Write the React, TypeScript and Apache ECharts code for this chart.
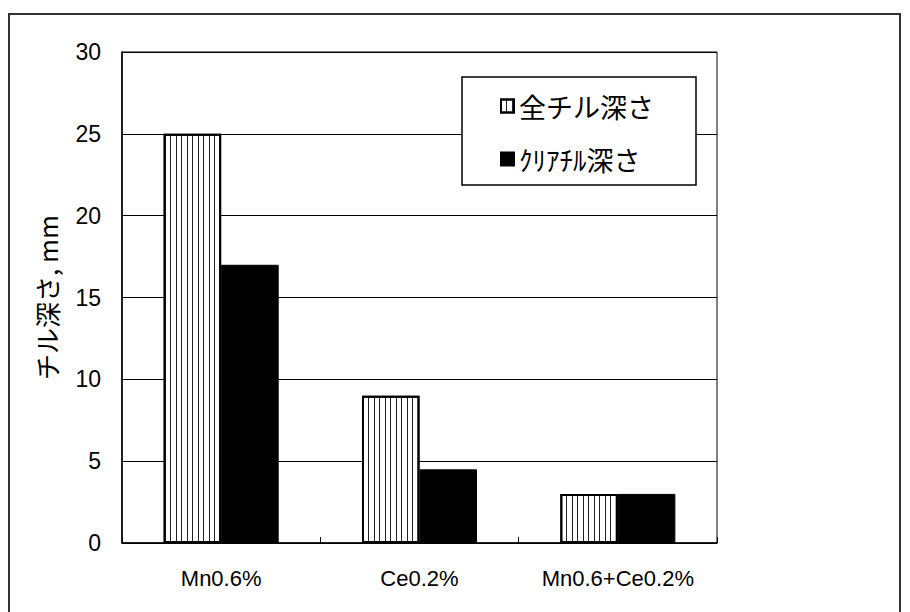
import React, { useEffect, useRef } from "react";
import * as echarts from "echarts";

// Chill depth by alloy addition (mm)
const categories = ["Mn0.6%", "Ce0.2%", "Mn0.6+Ce0.2%"];
const seriesNames = ["全チル深さ", "ｸﾘｱﾁﾙ深さ"];
const totalChillDepth = [25, 9, 3];
const clearChillDepth = [17, 4.5, 3];
const yMin = 0;
const yMax = 30;
const yStep = 5;
const yAxisTitle = "チル深さ, mm";

const latinFont = "'Liberation Sans', Arial, sans-serif";
const cjkFont = "'Noto Sans CJK JP', sans-serif";

export default function App() {
  const ref = useRef<HTMLDivElement>(null);

  useEffect(() => {
    if (!ref.current) return;
    const chart = echarts.init(ref.current, undefined, { renderer: "svg" });

    chart.setOption({
      animation: false,
      backgroundColor: "#fff",
      grid: {
        left: 122,
        right: 193,
        top: 52,
        bottom: 69,
        show: true,
        borderColor: "#000",
        borderWidth: 1,
        backgroundColor: "transparent",
      },
      legend: {
        orient: "vertical",
        left: 500,
        top: 90,
        padding: 0,
        itemGap: 21,
        itemWidth: 13,
        itemHeight: 13,
        icon: "rect",
        textStyle: {
          fontFamily: cjkFont,
          fontSize: 27,
          lineHeight: 32,
          color: "#000",
        },
        data: seriesNames,
        z: 10,
      },
      xAxis: {
        type: "category",
        data: categories,
        axisLine: { lineStyle: { color: "#000", width: 1.5 } },
        axisTick: { show: true, inside: true, length: 6, lineStyle: { color: "#000" } },
        axisLabel: {
          fontFamily: latinFont,
          fontSize: 22,
          color: "#000",
          margin: 24,
        },
        splitLine: { show: false },
      },
      yAxis: {
        type: "value",
        min: yMin,
        max: yMax,
        interval: yStep,
        name: yAxisTitle,
        nameLocation: "middle",
        nameRotate: 90,
        nameGap: 63,
        nameTextStyle: {
          fontFamily: cjkFont,
          fontSize: 26,
          color: "#000",
        },
        axisLine: { show: true, lineStyle: { color: "#000", width: 1.5 } },
        axisTick: { show: false },
        axisLabel: {
          fontFamily: latinFont,
          fontSize: 23,
          color: "#000",
          margin: 21,
        },
        splitLine: { show: true, lineStyle: { color: "#000", width: 1 } },
      },
      graphic: [
        {
          type: "rect",
          shape: { x: 9, y: 14, width: 891, height: 620 },
          style: { fill: "none", stroke: "#333", lineWidth: 2 },
          silent: true,
          z: 1,
        },
        {
          type: "rect",
          shape: { x: 462, y: 77, width: 234, height: 108 },
          style: { fill: "#fff", stroke: "#000", lineWidth: 1.5 },
          silent: true,
          z: 5,
        },
      ],
      series: [
        {
          name: seriesNames[0],
          type: "bar",
          data: totalChillDepth,
          barGap: "0%",
          barCategoryGap: "42%",
          itemStyle: {
            color: "#fff",
            borderColor: "#000",
            borderWidth: 2,
            decal: {
              symbol: "rect",
              symbolSize: 1,
              symbolKeepAspect: false,
              color: "#222",
              dashArrayX: [1, 4, 1, 5],
              dashArrayY: [20, 0],
              rotation: 0,
            },
          },
        },
        {
          name: seriesNames[1],
          type: "bar",
          data: clearChillDepth,
          barGap: "0%",
          barCategoryGap: "42%",
          itemStyle: {
            color: "#000",
            borderColor: "#000",
            borderWidth: 1,
          },
        },
      ],
    });

    return () => chart.dispose();
  }, []);

  return (
    <div
      ref={ref}
      style={{ position: "fixed", left: 0, top: 0, width: 910, height: 612 }}
    />
  );
}
